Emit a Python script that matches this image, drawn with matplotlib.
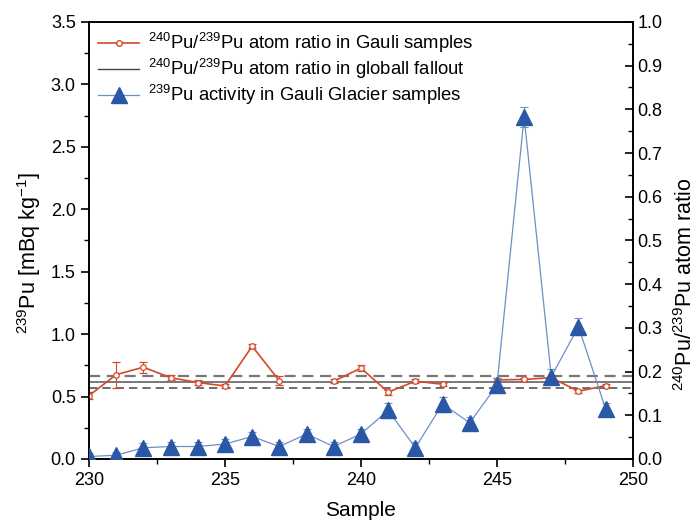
import numpy as np
import matplotlib
matplotlib.use("Agg")
import matplotlib.pyplot as plt
from matplotlib.ticker import MultipleLocator, FormatStrFormatter
from matplotlib.lines import Line2D

plt.rcParams['font.family'] = ['Liberation Sans', 'DejaVu Sans']
plt.rcParams['mathtext.fontset'] = 'custom'
plt.rcParams['mathtext.rm'] = 'Liberation Sans'
plt.rcParams['mathtext.it'] = 'Liberation Sans:italic'
plt.rcParams['mathtext.default'] = 'regular'

samples = list(range(230, 250))
# 240Pu/239Pu atom ratio (right axis); None = no measurement
ratio = [0.145, 0.193, 0.210, 0.186, 0.175, 0.167, 0.258, 0.179, None, 0.178,
         0.208, 0.153, 0.178, 0.171, None, 0.181, 0.182, 0.186, 0.155, 0.168]
ratio_err = [0.008, 0.030, 0.013, 0.006, 0.005, 0.005, 0.005, 0.010, None, 0.004,
             0.007, 0.006, 0.004, 0.004, None, 0.004, 0.003, 0.005, 0.004, 0.004]
# 239Pu activity (left axis)
activity = [0.02, 0.03, 0.09, 0.10, 0.10, 0.12, 0.18, 0.10, 0.20, 0.10,
            0.20, 0.39, 0.09, 0.44, 0.29, 0.59, 2.74, 0.66, 1.06, 0.40]
activity_err = [0.03, 0.03, 0.04, 0.04, 0.04, 0.04, 0.04, 0.04, 0.04, 0.04,
                0.04, 0.06, 0.05, 0.06, 0.05, 0.06, 0.08, 0.06, 0.07, 0.05]
fallout_ratio = 0.176
fallout_err = 0.014

red = '#d5482a'
blue = '#2a58a6'
blue_line = '#6f8fc6'

fig = plt.figure(figsize=(6.97, 5.22), dpi=100)
ax = fig.add_axes([0.1277, 0.1207, 0.7803, 0.8373])
ax2 = ax.twinx()

x = np.array(samples, dtype=float)
r = np.array([np.nan if v is None else v for v in ratio])
re = np.array([np.nan if v is None else v for v in ratio_err])
a = np.array(activity)
ae = np.array(activity_err)

# fallout lines (right axis)
ax2.axhline(fallout_ratio, color='#555555', lw=1.1, zorder=1)
ax2.axhline(fallout_ratio + fallout_err, color='#777777', lw=1.6, ls=(0, (5, 3)), zorder=1)
ax2.axhline(fallout_ratio - fallout_err, color='#555555', lw=1.2, ls=(0, (5, 3)), zorder=1)

# ratio series (right axis)
ax2.errorbar(x, r, yerr=re, color=red, lw=1.2, marker='o', ms=4, mfc='white',
             mec=red, mew=0.9, capsize=3, elinewidth=0.8, capthick=0.8, zorder=3)

# activity series (left axis) - drawn above
ax.set_zorder(ax2.get_zorder() + 1)
ax.patch.set_visible(False)
ax.errorbar(x, a, yerr=ae, color=blue_line, lw=0.9, marker='^', ms=11,
            mfc=blue, mec=blue, ecolor=blue_line, capsize=3, elinewidth=0.8,
            capthick=0.8, zorder=4)

ax.set_xlim(230, 250)
ax.set_ylim(0, 3.5)
ax2.set_ylim(0, 1.0)

ax.xaxis.set_major_locator(MultipleLocator(5))
ax.xaxis.set_minor_locator(MultipleLocator(2.5))
ax.yaxis.set_major_locator(MultipleLocator(0.5))
ax.yaxis.set_minor_locator(MultipleLocator(0.25))
ax2.yaxis.set_major_locator(MultipleLocator(0.1))
ax2.yaxis.set_minor_locator(MultipleLocator(0.05))

ax.tick_params(axis='both', which='major', direction='out', length=6, width=1.2,
               labelsize=13, top=False, right=False)
ax.tick_params(axis='both', which='minor', direction='out', length=3.5, width=1.0,
               top=False, right=False)
ax2.tick_params(axis='y', which='major', direction='in', length=6, width=1.2, labelsize=13)
ax2.tick_params(axis='y', which='minor', direction='in', length=3.5, width=1.0)
ax.yaxis.set_major_formatter(FormatStrFormatter('%.1f'))
ax2.yaxis.set_major_formatter(FormatStrFormatter('%.1f'))

for a_ in (ax, ax2):
    for s in a_.spines.values():
        s.set_linewidth(1.2)

ax.set_xlabel('Sample', fontsize=15)
ax.xaxis.set_label_coords(0.5, -0.097)
ax.set_ylabel('$^{239}$Pu [mBq kg$^{-1}$]', fontsize=15.5)
ax.yaxis.set_label_coords(-0.085, 0.47)
ax2.set_ylabel('$^{240}$Pu/$^{239}$Pu atom ratio', fontsize=15.5, rotation=90)
ax2.yaxis.set_label_coords(1.075, 0.40)

handles = [
    Line2D([], [], color=red, lw=1.2, marker='o', ms=4, mfc='white', mec=red),
    Line2D([], [], color='#444444', lw=1.0),
    Line2D([], [], color=blue_line, lw=0.9, marker='^', ms=11, mfc=blue, mec=blue),
]
labels = [
    '$^{240}$Pu/$^{239}$Pu atom ratio in Gauli samples',
    '$^{240}$Pu/$^{239}$Pu atom ratio in globall fallout',
    '$^{239}$Pu activity in Gauli Glacier samples',
]
ax.legend(handles, labels, loc='upper left', frameon=False, fontsize=13.3,
          handlelength=2.2, borderaxespad=0.1, labelspacing=0.1,
          handletextpad=0.5, bbox_to_anchor=(0.0, 1.0))

fig.savefig('out.png', dpi=100)
